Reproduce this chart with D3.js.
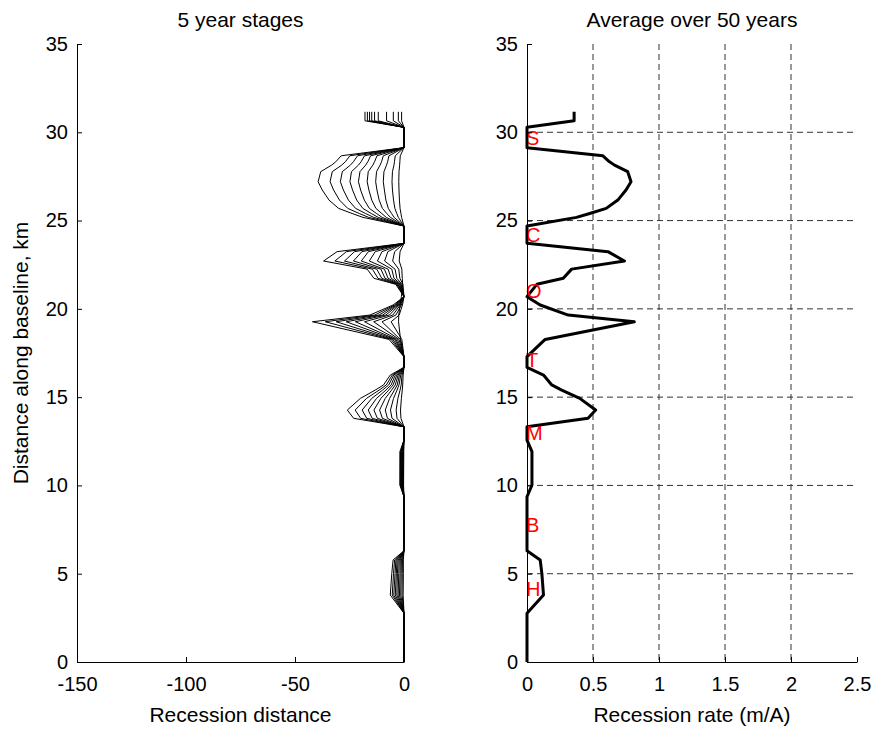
<!DOCTYPE html>
<html>
<head>
<meta charset="utf-8">
<script src="https://cdn.jsdelivr.net/npm/d3@7"></script>
<style>
  body { margin: 0; background: #fff; }
  svg text { font-family: "Liberation Sans", Arial, sans-serif; }
</style>
</head>
<body>
<div id="vis-container"></div>
<script>
"use strict";

// distance along baseline (km) shared by both panels
const km = [31.16, 30.65, 30.28, 29.13, 28.67, 28.33, 28.14, 27.77, 27.2, 26.73, 26.16, 25.69, 25.4, 25.18, 24.69,
    23.71, 23.24, 22.71, 22.25, 21.73, 21.39, 20.69, 20.22, 19.65, 19.27, 18.27, 17.29, 16.69, 16.25, 15.69,
    15.4, 14.93, 14.27, 13.8, 13.32, 12.57, 11.91, 10.02, 9.36, 6.3, 5.78, 5.02, 3.79, 2.76, 0];

// cumulative recession (m) after each 5 year stage
const stage05 = [-1.1, -1.1, 0, 0, -1.7, -1.9, -2.0, -2.3, -2.4, -2.3, -2.1, -1.8, -1.4, -1.1, 0, 0, -1.8, -2.2, -1.0, -0.8, -0.6, -1.2, -1.8, -2.4, -2.5, -1.6, 0, 0, -0.4, -0.6, -0.8, -1.2, -1.6, -1.4, 0, 0, -0.1, -0.2, 0, 0, -0.3, -0.3, -0.4, 0, 0];
const stage10 = [-2.6, -2.6, 0, 0, -4.0, -4.4, -4.6, -5.3, -5.5, -5.3, -4.8, -4.2, -3.3, -2.6, 0, 0, -4.3, -5.2, -2.4, -1.9, -0.5, 0, -0.7, -2.2, -5.9, -1.0, 0, 0, -0.9, -1.3, -1.8, -2.8, -3.6, -3.2, 0, 0, -0.3, -0.4, 0, 0, -0.7, -0.8, -0.9, 0, 0];
const stage15 = [-4.9, -4.9, 0, 0, -6.9, -7.5, -8.0, -9.2, -9.5, -9.0, -8.3, -7.2, -5.7, -4.5, 0, 0, -7.4, -8.9, -4.1, -3.3, -0.9, 0, -1.2, -3.7, -10.1, -1.7, 0, 0, -1.5, -2.3, -3.2, -4.8, -6.2, -5.5, 0, 0, -0.5, -0.5, 0, 0, -1.2, -1.3, -1.5, 0, 0];
const stage20 = [-8.0, -8.0, 0, 0, -9.5, -10.3, -11.0, -12.6, -13.0, -12.4, -11.4, -9.9, -7.9, -6.2, 0, 0, -10.1, -12.2, -5.6, -4.6, -1.3, 0, -1.7, -5.1, -13.9, -2.3, 0, 0, -2.1, -3.1, -4.4, -6.6, -8.6, -7.6, 0, 0, -0.6, -0.7, 0, 0, -1.7, -1.8, -2.1, 0, 0];
const stage25 = [-11.8, -11.8, 0, 0, -12.4, -13.5, -14.3, -16.4, -16.9, -16.1, -14.8, -12.9, -10.2, -8.1, 0, 0, -13.2, -15.9, -7.3, -5.9, -1.6, 0, -2.2, -6.7, -18.1, -3.0, 0, 0, -2.7, -4.0, -5.7, -8.6, -11.2, -9.9, 0, 0, -0.8, -0.9, 0, 0, -2.2, -2.4, -2.7, 0, 0];
const stage30 = [-13.5, -13.5, 0, 0, -15.3, -16.6, -17.6, -20.2, -20.9, -19.9, -18.2, -15.9, -12.6, -10.0, 0, 0, -16.3, -19.6, -9.0, -7.3, -2.0, 0, -2.7, -8.3, -22.3, -3.7, 0, 0, -3.3, -5.0, -7.0, -10.6, -13.8, -12.2, 0, 0, -1.0, -1.1, 0, 0, -2.7, -3.0, -3.3, 0, 0];
const stage35 = [-14.8, -14.8, 0, 0, -18.1, -19.7, -20.9, -24.1, -24.8, -23.6, -21.7, -18.9, -15.0, -11.8, 0, 0, -19.3, -23.2, -10.6, -8.7, -2.4, 0, -3.2, -9.8, -26.5, -4.3, 0, 0, -4.0, -5.9, -8.3, -12.6, -16.4, -14.6, 0, 0, -1.2, -1.3, 0, 0, -3.2, -3.5, -4.0, 0, 0];
const stage40 = [-15.8, -15.8, 0, 0, -21.3, -23.2, -24.6, -28.3, -29.2, -27.8, -25.5, -22.2, -17.6, -13.9, 0, 0, -22.7, -27.3, -12.5, -10.2, -2.8, 0, -3.7, -11.5, -31.1, -5.1, 0, 0, -4.7, -7.0, -9.8, -14.8, -19.2, -17.1, 0, 0, -1.4, -1.5, 0, 0, -3.7, -4.1, -4.7, 0, 0];
const stage45 = [-16.8, -16.8, 0, 0, -24.8, -26.9, -28.6, -32.9, -33.9, -32.3, -29.6, -25.8, -20.5, -16.2, 0, 0, -26.4, -31.7, -14.5, -11.9, -3.3, 0, -4.3, -13.4, -36.1, -5.9, 0, 0, -5.4, -8.1, -11.4, -17.2, -22.4, -19.9, 0, 0, -1.6, -1.7, 0, 0, -4.3, -4.8, -5.4, 0, 0];
const stage50 = [-17.9, -17.9, 0, 0, -28.8, -31.3, -33.2, -38.2, -39.4, -37.5, -34.4, -30.0, -23.8, -18.8, 0, 0, -30.7, -36.9, -16.9, -13.8, -3.8, 0, -5.0, -15.6, -42.0, -6.9, 0, 0, -6.3, -9.4, -13.2, -20.0, -26.0, -23.1, 0, 0, -1.9, -1.9, 0, 0, -5.0, -5.6, -6.3, 0, 0];

// average recession rate over 50 years (m/A)
const rate = [0.357, 0.357, 0, 0, 0.575, 0.625, 0.663, 0.763, 0.788, 0.75, 0.688, 0.6, 0.475, 0.375, 0,
    0, 0.613, 0.738, 0.338, 0.275, 0.075, 0, 0.1, 0.3125, 0.813, 0.1375, 0, 0, 0.125, 0.1875,
    0.263, 0.4, 0.52, 0.4625, 0, 0, 0.0375, 0.0375, 0, 0, 0.1, 0.1125, 0.125, 0, 0];

// site labels
const siteNames = ["S", "C", "O", "T", "M", "B", "H"];
const siteKm = [29.67, 24.18, 21.03, 17.1, 12.98, 7.76, 4.17];

const xTicksLeft = [-150, -100, -50, 0];
const xTicksRight = [0, 0.5, 1, 1.5, 2, 2.5];
const yTicks = [0, 5, 10, 15, 20, 25, 30, 35];

function mainIndex()
{
    const width = 873, height = 729;
    const top = 44, bottom = 662;
    const left1 = 77, right1 = 404;
    const left2 = 527, right2 = 857;
    const tickFont = 20;
    const labelFont = 21;

    const svg = d3.select("#vis-container")
        .append("svg")
        .attr("width", width)
        .attr("height", height);

    const y = d3.scaleLinear().domain([0, 35]).range([bottom, top]);
    const xL = d3.scaleLinear().domain([-150, 0]).range([left1, right1]);
    const xR = d3.scaleLinear().domain([0, 2.5]).range([left2, right2]);

    // ---- right panel grid
    const grid = svg.append("g").attr("class", "grid");
    grid.selectAll(".gx")
        .data(xTicksRight.filter(d => d > 0 && d < 2.5))
        .enter()
        .append("line")
        .attr("x1", d => xR(d)).attr("x2", d => xR(d))
        .attr("y1", top).attr("y2", bottom)
        .attr("stroke", "#333").attr("stroke-dasharray", "6,4").attr("stroke-width", 1);
    grid.selectAll(".gy")
        .data(yTicks.filter(d => d > 0 && d < 35))
        .enter()
        .append("line")
        .attr("x1", left2).attr("x2", right2)
        .attr("y1", d => y(d)).attr("y2", d => y(d))
        .attr("stroke", "#333").attr("stroke-dasharray", "6,4").attr("stroke-width", 1);

    // ---- left panel lines
    const stages = [stage05, stage10, stage15, stage20, stage25, stage30, stage35, stage40, stage45, stage50];
    const lineL = d3.line()
        .x(d => xL(d[0]))
        .y(d => y(d[1]));

    svg.append("g")
        .selectAll("path")
        .data(stages)
        .enter()
        .append("path")
        .attr("d", s => lineL(s.map((v, i) => [v, km[i]])))
        .attr("fill", "none")
        .attr("stroke", "#000")
        .attr("stroke-width", 1);

    // ---- right panel curve
    const lineR = d3.line()
        .x(d => xR(d[0]))
        .y(d => y(d[1]));

    svg.append("path")
        .attr("d", lineR(rate.map((v, i) => [v, km[i]])))
        .attr("fill", "none")
        .attr("stroke", "#000")
        .attr("stroke-width", 3)
        .attr("stroke-linejoin", "round");

    svg.append("g")
        .selectAll("text")
        .data(siteNames)
        .enter()
        .append("text")
        .attr("x", xR(0) - 1)
        .attr("y", (d, i) => y(siteKm[i]))
        .attr("dy", "0.36em")
        .attr("fill", "#ff0000")
        .style("font-size", "20px")
        .text(d => d);

    // ---- axes
    function styleAxis(g)
    {
        g.selectAll("path.domain").attr("stroke", "#000").attr("stroke-width", 1);
        g.selectAll(".tick line").attr("stroke", "#000");
        g.selectAll(".tick text")
            .attr("fill", "#000")
            .style("font-size", tickFont + "px")
            .style("font-family", "'Liberation Sans', Arial, sans-serif");
    }

    const yAxisL = d3.axisLeft(y).tickValues(yTicks).tickSizeInner(-5).tickSizeOuter(0).tickPadding(9);
    const yAxisR = d3.axisLeft(y).tickValues(yTicks).tickSizeInner(-5).tickSizeOuter(0).tickPadding(9);
    const xAxisL = d3.axisBottom(xL).tickValues(xTicksLeft).tickSizeInner(-5).tickSizeOuter(0).tickPadding(15).tickFormat(d => String(d));
    const xAxisR = d3.axisBottom(xR).tickValues(xTicksRight).tickSizeInner(-5).tickSizeOuter(0).tickPadding(15).tickFormat(d => String(d));

    svg.append("g").attr("transform", `translate(${left1},0)`).call(yAxisL).call(styleAxis);
    svg.append("g").attr("transform", `translate(0,${bottom})`).call(xAxisL).call(styleAxis);
    svg.append("g").attr("transform", `translate(${left2},0)`).call(yAxisR).call(styleAxis);
    svg.append("g").attr("transform", `translate(0,${bottom})`).call(xAxisR).call(styleAxis);

    // ---- titles and labels
    const labels = [
        { t: "5 year stages", x: (left1 + right1) / 2, y: 27 },
        { t: "Average over 50 years", x: (left2 + right2) / 2, y: 27 },
        { t: "Recession distance", x: (left1 + right1) / 2, y: 722 },
        { t: "Recession rate (m/A)", x: (left2 + right2) / 2, y: 722 }
    ];
    svg.append("g")
        .selectAll("text")
        .data(labels)
        .enter()
        .append("text")
        .attr("x", d => d.x)
        .attr("y", d => d.y)
        .attr("text-anchor", "middle")
        .style("font-size", labelFont + "px")
        .text(d => d.t);

    svg.append("text")
        .attr("transform", `translate(28,${(top + bottom) / 2}) rotate(-90)`)
        .attr("text-anchor", "middle")
        .style("font-size", labelFont + "px")
        .text("Distance along baseline, km");
}

document.addEventListener("DOMContentLoaded", mainIndex);
</script>
</body>
</html>
